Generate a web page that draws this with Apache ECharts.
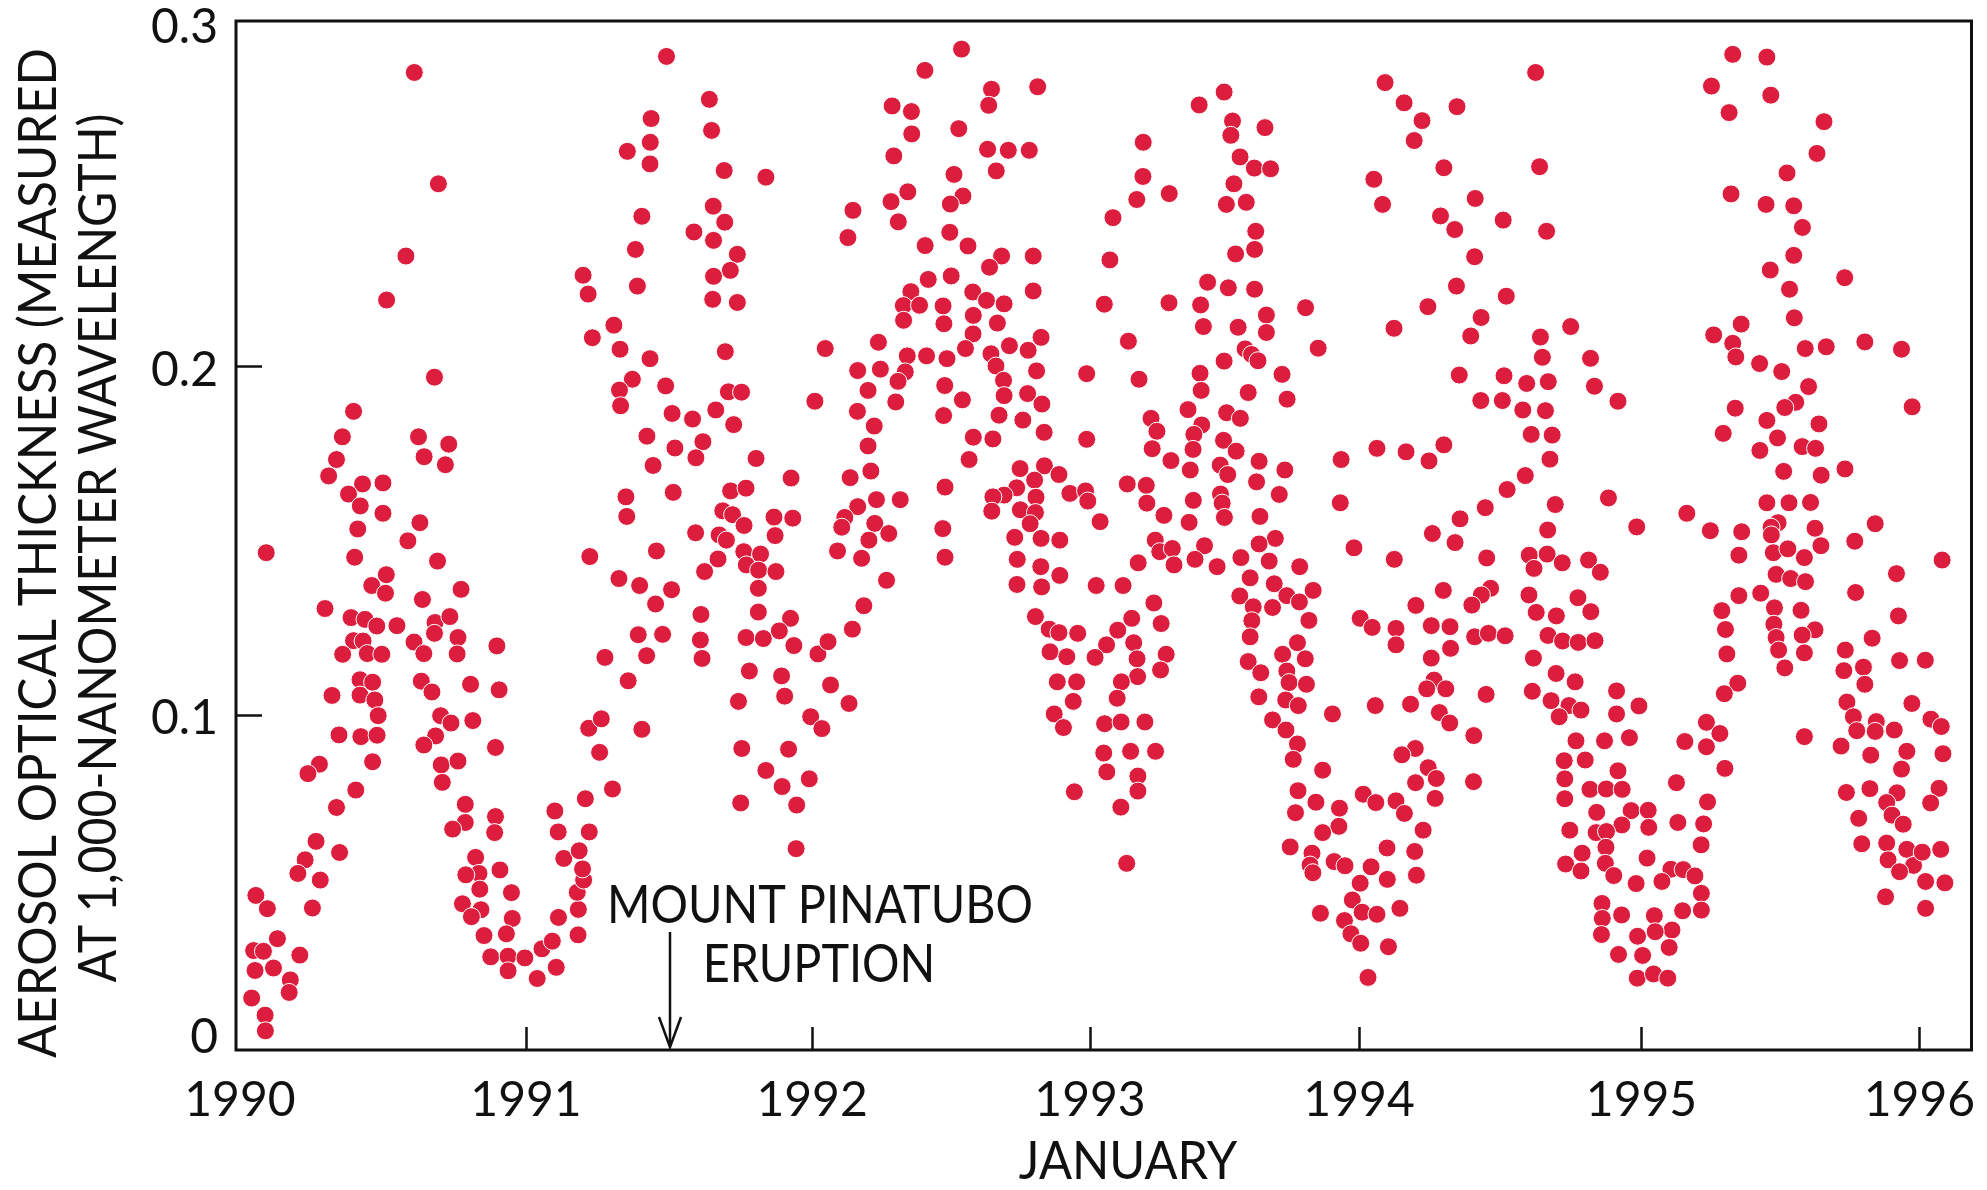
<!DOCTYPE html>
<html><head><meta charset="utf-8">
<style>html,body{margin:0;padding:0;background:#fff}#c{width:1987px;height:1190px}</style>
<script src="https://cdn.jsdelivr.net/npm/echarts@6/dist/echarts.min.js"></script>
</head><body><div id="c"></div>
<script>
// Observations: [decimal year on the axis scale, aerosol optical thickness]
const obs1990 = [[1990.623,.2843],[1990.709,.2524],[1990.593,.2317],[1990.524,.2191],[1990.695,.1970],[1990.406,.1872],[1990.366,.1799],[1990.345,.1734],[1990.317,.1687],[1990.438,.1664],[1990.511,.1667],[1990.388,.1635],[1990.430,.1601],[1990.511,.1580],[1990.421,.1535],[1990.643,.1553],[1990.638,.1799],[1990.746,.1778],[1990.658,.1742],[1990.734,.1719],
[1990.094,.1467],[1990.600,.1501],[1990.410,.1454],[1990.706,.1443],[1990.523,.1404],[1990.471,.1373],[1990.520,.1351],[1990.790,.1362],[1990.652,.1333],[1990.304,.1307],[1990.397,.1281],[1990.447,.1276],[1990.489,.1257],[1990.561,.1258],[1990.697,.1267],[1990.750,.1284],[1990.695,.1236],[1990.779,.1224],[1990.918,.1200],[1990.406,.1215],[1990.440,.1214],[1990.622,.1211],[1990.367,.1176],[1990.455,.1178],[1990.507,.1176],[1990.657,.1178],[1990.776,.1177],[1990.429,.1103],[1990.474,.1096],[1990.648,.1099],[1990.686,.1068],[1990.824,.1090],[1990.926,.1074],[1990.329,.1058],[1990.429,.1059],[1990.482,.1045],[1990.494,.1000],[1990.717,.1000],[1990.754,.0979],[1990.832,.0986],[1990.354,.0945],[1990.432,.0940],[1990.490,.0944],[1990.699,.0942],[1990.657,.0916],[1990.913,.0909],[1990.284,.0861],[1990.243,.0834],[1990.474,.0868],[1990.719,.0859],[1990.779,.0870],[1990.723,.0809],[1990.414,.0787],[1990.345,.0737],[1990.805,.0746],[1990.913,.0711],[1990.805,.0694],[1990.760,.0675],[1990.910,.0665],[1990.272,.0640],[1990.233,.0587],[1990.356,.0608],[1990.207,.0548],[1990.287,.0529],[1990.842,.0594],[1990.854,.0548],[1990.807,.0544],[1990.929,.0558],[1990.857,.0503],[1990.970,.0493],[1990.057,.0485],[1990.098,.0447],[1990.259,.0449],[1990.795,.0461],[1990.861,.0444],[1990.827,.0424],[1990.973,.0419],[1990.872,.0370],[1990.952,.0375],[1990.134,.0361],[1990.049,.0327],[1990.084,.0325],[1990.214,.0314],[1990.896,.0309],[1990.958,.0311],[1990.054,.0270],[1990.120,.0277],[1990.958,.0269],[1990.180,.0243],[1990.176,.0207],[1990.042,.0191],[1990.090,.0142],[1990.091,.0097]];
const obs1991 = [[1991.524,.2889],[1991.677,.2766],[1991.469,.2711],[1991.685,.2677],[1991.466,.2643],[1991.384,.2617],[1991.465,.2581],[1991.730,.2562],[1991.879,.2543],[1991.691,.2460],[1991.436,.2431],[1991.732,.2414],[1991.622,.2386],[1991.692,.2362],[1991.413,.2336],[1991.777,.2322],[1991.752,.2276],[1991.226,.2262],[1991.692,.2259],[1991.420,.2231],[1991.244,.2208],[1991.689,.2193],[1991.777,.2184],[1991.336,.2119],[1991.259,.2083],[1991.358,.2050],[1991.465,.2023],[1991.734,.2043],[1991.402,.1964],[1991.356,.1933],[1991.521,.1945],[1991.360,.1888],[1991.745,.1928],[1991.792,.1927],[1991.544,.1866],[1991.617,.1850],[1991.700,.1876],[1991.764,.1834],[1991.454,.1801],[1991.554,.1767],[1991.654,.1785],[1991.629,.1739],[1991.476,.1717],[1991.844,.1737],[1991.969,.1681],[1991.379,.1627],[1991.548,.1640],[1991.753,.1644],[1991.808,.1652],[1991.382,.1571],[1991.725,.1587],[1991.760,.1576],[1991.801,.1545],[1991.908,.1569],[1991.975,.1566],[1991.628,.1524],[1991.912,.1516],[1991.712,.1518],
[1991.738,.1503],[1991.250,.1456],[1991.488,.1472],[1991.800,.1470],[1991.860,.1463],[1991.708,.1449],[1991.660,.1413],[1991.809,.1432],[1991.853,.1417],[1991.915,.1413],[1991.354,.1393],[1991.428,.1373],[1991.542,.1361],[1991.852,.1365],[1991.485,.1320],
[1991.062,.0247],[1991.130,.0279],[1991.079,.0332],[1991.116,.0354],[1991.018,.0306],[1991.208,.0372],[1991.138,.0422],[1991.209,.0445],[1991.205,.0494],[1991.228,.0529],[1991.224,.0561],[1991.157,.0591],[1991.212,.0613],[1991.137,.0667],[1991.248,.0667],[1991.125,.0727],[1991.234,.0762],[1991.331,.0790],[1991.285,.0895],[1991.246,.0964],[1991.291,.0991],[1991.436,.0961],[1991.304,.1167],[1991.387,.1100],[1991.423,.1232],[1991.510,.1233],[1991.453,.1172],[1991.647,.1290],[1991.645,.1217],[1991.651,.1164],[1991.852,.1297],[1991.967,.1279],[1991.927,.1243],[1991.808,.1224],[1991.870,.1221],[1991.979,.1201],[1991.820,.1128],[1991.935,.1114],[1991.946,.1056],[1991.781,.1041],[1991.793,.0906],[1991.960,.0904],[1991.879,.0843],[1991.937,.0797],[1991.789,.0750],[1991.989,.0744],[1991.987,.0619]];
const obs1992 = [[1992.578,.2910],[1992.447,.2849],[1992.685,.2795],[1992.850,.2802],[1992.675,.2749],[1992.330,.2747],[1992.399,.2731],[1992.400,.2667],[1992.568,.2682],[1992.671,.2623],[1992.745,.2620],[1992.820,.2620],[1992.336,.2604],[1992.702,.2561],[1992.551,.2551],[1992.386,.2501],[1992.326,.2473],[1992.583,.2489],[1992.538,.2466],[1992.190,.2448],[1992.172,.2370],[1992.352,.2415],[1992.536,.2385],[1992.448,.2347],[1992.601,.2346],[1992.721,.2317],[1992.678,.2285],[1992.834,.2317],[1992.541,.2260],[1992.459,.2250],[1992.834,.2217],[1992.397,.2215],[1992.618,.2214],[1992.667,.2190],[1992.730,.2180],[1992.370,.2175],[1992.428,.2176],[1992.512,.2174],[1992.371,.2133],[1992.515,.2123],[1992.620,.2147],[1992.706,.2125],[1992.619,.2094],[1992.281,.2070],[1992.592,.2052],[1992.862,.2084],[1992.749,.2060],[1992.816,.2047],[1992.384,.2031],[1992.453,.2031],[1992.526,.2023],[1992.683,.2037],[1992.701,.2002],[1992.207,.1989],[1992.288,.1993],[1992.377,.1985],[1992.351,.1958],[1992.846,.1988],[1992.728,.1961],[1992.518,.1946],[1992.730,.1917],[1992.814,.1923],[1992.865,.1893],[1992.244,.1932],[1992.343,.1899],[1992.581,.1905],[1992.206,.1872],[1992.514,.1860],[1992.712,.1861],[1992.797,.1847],[1992.266,.1830],[1992.873,.1812],[1992.620,.1798],[1992.690,.1793],[1992.244,.1773],[1992.605,.1734],[1992.254,.1701],[1992.180,.1682],[1992.519,.1655],[1992.274,.1619],[1992.359,.1619],[1992.207,.1599],[1992.161,.1568],[1992.150,.1540],[1992.268,.1551],[1992.511,.1536],[1992.318,.1522],[1992.247,.1503],[1992.519,.1454],
[1992.091,.2052],[1992.054,.1901],[1992.065,.1177],[1992.101,.1212],[1992.039,.0997],[1992.079,.0963],[1992.034,.0819],[1992.110,.1088],[1992.176,.1035],[1992.188,.1248],[1992.229,.1315],[1992.310,.1388],[1992.221,.1451],[1992.135,.1472],
[1992.787,.1708],[1992.874,.1716],[1992.926,.1691],[1992.839,.1675],[1992.775,.1653],[1992.730,.1632],[1992.690,.1627],[1992.844,.1626],[1992.965,.1637],[1992.686,.1586],[1992.788,.1590],[1992.842,.1582],[1992.823,.1550],[1992.768,.1511],[1992.862,.1508],[1992.929,.1503],[1992.777,.1448],[1992.776,.1376],[1992.861,.1427],[1992.864,.1369],[1992.929,.1402],[1992.842,.1284],[1992.891,.1248],[1992.926,.1238],[1992.993,.1236],[1992.894,.1183],[1992.954,.1169],[1992.920,.1097],[1992.989,.1097],[1992.977,.1041],[1992.909,.1005],[1992.942,.0966],[1992.981,.0782]];
const obs1993 = [[1993.025,.1980],[1993.025,.1792],[1993.021,.1644],[1993.029,.1615],[1993.073,.1556],
[1993.516,.2787],[1993.427,.2750],[1993.546,.2704],[1993.662,.2685],[1993.540,.2663],[1993.227,.2643],[1993.573,.2601],[1993.624,.2569],[1993.682,.2567],[1993.226,.2545],[1993.551,.2524],[1993.320,.2496],[1993.204,.2479],[1993.524,.2465],[1993.595,.2471],[1993.119,.2427],[1993.629,.2388],[1993.625,.2336],[1993.557,.2323],[1993.108,.2306],[1993.457,.2242],[1993.531,.2226],[1993.625,.2222],[1993.088,.2179],[1993.319,.2183],[1993.432,.2177],[1993.807,.2169],[1993.667,.2148],[1993.442,.2115],[1993.566,.2113],[1993.667,.2098],[1993.174,.2073],[1993.852,.2053],[1993.591,.2051],[1993.614,.2035],[1993.637,.2017],[1993.516,.2016],[1993.430,.1981],[1993.723,.1978],[1993.212,.1964],[1993.434,.1932],[1993.602,.1926],[1993.741,.1907],[1993.387,.1877],[1993.525,.1868],[1993.574,.1852],[1993.255,.1852],[1993.436,.1833],[1993.276,.1815],[1993.408,.1806],[1993.514,.1789],[1993.405,.1763],[1993.259,.1765],[1993.559,.1758],[1993.326,.1731],[1993.641,.1729],[1993.934,.1734],[1993.395,.1704],[1993.502,.1718],[1993.529,.1691],[1993.733,.1704],[1993.632,.1670],[1993.170,.1664],[1993.238,.1660],[1993.713,.1634],[1993.503,.1635],[1993.406,.1617],[1993.509,.1609],[1993.240,.1609],[1993.931,.1610],[1993.301,.1574],[1993.517,.1568],[1993.391,.1554],[1993.644,.1571],[1993.699,.1508],[1993.641,.1492],[1993.270,.1503],[1993.286,.1470],[1993.331,.1479],[1993.337,.1432],[1993.446,.1487],[1993.412,.1448],[1993.209,.1438],[1993.491,.1427],[1993.576,.1453],[1993.677,.1443],[1993.786,.1427],[1993.980,.1481],[1993.609,.1395],[1993.695,.1378],[1993.059,.1373],[1993.155,.1373],[1993.834,.1359],[1993.572,.1343],[1993.740,.1344],[1993.785,.1326],[1993.265,.1323],[1993.620,.1312],[1993.689,.1310],[1993.186,.1279],[1993.291,.1264],[1993.819,.1273],[1993.615,.1272],[1993.136,.1245],[1993.096,.1203],[1993.055,.1167],[1993.193,.1209],[1993.205,.1163],[1993.309,.1176],[1993.289,.1131],[1993.207,.1112],[1993.149,.1097],[1993.134,.1050],[1993.089,.0977],[1993.148,.0982],[1993.233,.0982],[1993.086,.0893],[1993.182,.0898],[1993.271,.0898],[1993.097,.0839],[1993.208,.0827],[1993.208,.0784],[1993.147,.0738],[1993.168,.0577],
[1993.609,.1226],[1993.602,.1155],[1993.647,.1123],[1993.640,.1054],[1993.725,.1176],[1993.778,.1209],[1993.806,.1163],[1993.740,.1128],[1993.748,.1095],[1993.810,.1090],[1993.736,.1045],[1993.781,.1029],[1993.903,.1005],[1993.689,.0988],[1993.737,.0959],[1993.778,.0919],[1993.763,.0875],[1993.868,.0844],[1993.780,.0785],[1993.844,.0752],[1993.928,.0735],[1993.771,.0722],[1993.926,.0683],[1993.868,.0665],[1993.752,.0624],[1993.830,.0606],[1993.823,.0572],[1993.833,.0550],[1993.909,.0582],[1993.948,.0570],[1993.974,.0472],[1993.860,.0434],[1993.946,.0413],[1993.969,.0375]];
const obs1994 = [[1994.051,.2537],[1994.082,.2465],[1994.123,.2110],[1994.124,.1448],[1994.062,.1766],[1994.002,.1279],[1994.045,.1253],[1994.130,.1250],[1994.130,.1203],[1994.056,.1029],[1994.013,.0775],[1994.058,.0751],[1994.098,.0621],[1994.041,.0567],[1994.099,.0531],[1994.002,.0520],[1994.009,.0437],[1994.062,.0431],[1994.144,.0448],[1994.004,.0348],[1994.103,.0338],[1994.030,.0250],
[1994.629,.2843],[1994.091,.2814],[1994.348,.2745],[1994.159,.2756],[1994.223,.2705],[1994.195,.2648],[1994.301,.2570],[1994.643,.2573],[1994.413,.2482],[1994.289,.2432],[1994.340,.2393],[1994.513,.2420],[1994.668,.2388],[1994.411,.2315],[1994.346,.2231],[1994.524,.2202],[1994.244,.2172],[1994.434,.2141],[1994.397,.2088],[1994.754,.2115],[1994.646,.2085],[1994.653,.2027],[1994.825,.2024],[1994.356,.1976],[1994.516,.1974],[1994.597,.1952],[1994.674,.1957],[1994.839,.1944],[1994.923,.1901],[1994.433,.1903],[1994.510,.1903],[1994.583,.1876],[1994.664,.1874],[1994.613,.1806],[1994.688,.1804],[1994.680,.1735],[1994.592,.1688],[1994.527,.1648],[1994.449,.1596],[1994.699,.1605],[1994.359,.1564],[1994.889,.1624],[1994.260,.1522],[1994.672,.1532],[1994.990,.1541],[1994.166,.1756],[1994.248,.1730],[1994.301,.1776],
[1994.341,.1496],[1994.454,.1452],[1994.606,.1460],[1994.670,.1463],[1994.623,.1422],[1994.724,.1438],[1994.818,.1446],[1994.860,.1411],[1994.299,.1359],[1994.201,.1316],[1994.468,.1365],[1994.435,.1346],[1994.401,.1317],[1994.605,.1346],[1994.780,.1338],[1994.631,.1296],[1994.703,.1286],[1994.826,.1298],[1994.256,.1258],[1994.323,.1255],[1994.673,.1230],[1994.725,.1214],[1994.781,.1210],[1994.841,.1215],[1994.411,.1226],[1994.460,.1236],[1994.520,.1229],[1994.325,.1193],[1994.256,.1165],[1994.621,.1165],[1994.702,.1121],[1994.770,.1097],[1994.266,.1102],[1994.240,.1077],[1994.308,.1077],[1994.452,.1061],[1994.617,.1070],[1994.918,.1071],[1994.684,.1043],[1994.748,.1029],[1994.791,.1016],[1994.713,.0997],[1994.918,.1005],[1994.998,.1028],[1994.182,.1033],[1994.285,.1009],[1994.322,.0979],[1994.408,.0943],[1994.773,.0928],[1994.875,.0928],[1994.964,.0937],[1994.199,.0906],[1994.151,.0888],[1994.245,.0851],[1994.274,.0820],[1994.200,.0808],[1994.407,.0811],[1994.270,.0763],[1994.130,.0756],[1994.160,.0720],[1994.227,.0672],[1994.197,.0611],[1994.203,.0543],
[1994.731,.0871],[1994.806,.0873],[1994.923,.0842],[1994.733,.0819],[1994.823,.0789],[1994.881,.0790],[1994.938,.0789],[1994.733,.0762],[1994.847,.0723],[1994.970,.0728],[1994.937,.0687],[1994.751,.0672],[1994.845,.0665],[1994.882,.0668],[1994.880,.0623],[1994.795,.0606],[1994.736,.0575],[1994.791,.0555],[1994.878,.0577],[1994.908,.0542],[1994.988,.0519],[1994.866,.0462],[1994.867,.0419],[1994.936,.0429],[1994.864,.0373],[1994.993,.0368],[1994.925,.0316],[1994.992,.0248]];
const obs1995 = [[1995.162,.0926],[1995.239,.0981],[1995.287,.0949],[1995.239,.0911],[1995.305,.0849],[1995.132,.0808],[1995.243,.0753],[1995.031,.0729],[1995.033,.0680],[1995.137,.0694],[1995.229,.0690],[1995.220,.0630],[1995.027,.0592],[1995.112,.0560],[1995.156,.0559],[1995.198,.0541],[1995.080,.0525],[1995.221,.0491],[1995.154,.0441],[1995.221,.0443],[1995.053,.0427],[1995.116,.0386],[1995.056,.0381],[1995.106,.0336],[1995.011,.0313],[1995.050,.0260],[1995.101,.0248],
[1995.333,.2895],[1995.455,.2887],[1995.257,.2804],[1995.469,.2778],[1995.320,.2728],[1995.659,.2702],[1995.634,.2611],[1995.527,.2555],[1995.327,.2495],[1995.452,.2465],[1995.551,.2461],[1995.582,.2399],[1995.551,.2319],[1995.467,.2277],[1995.733,.2255],[1995.536,.2222],[1995.553,.2140],[1995.363,.2122],[1995.265,.2091],[1995.333,.2067],[1995.344,.2028],[1995.429,.2009],[1995.508,.1986],[1995.592,.2052],[1995.667,.2057],[1995.805,.2071],[1995.936,.2050],[1995.604,.1943],[1995.558,.1898],[1995.519,.1883],[1995.342,.1881],[1995.455,.1846],[1995.641,.1836],[1995.974,.1885],[1995.299,.1809],[1995.493,.1796],[1995.581,.1771],[1995.629,.1766],[1995.430,.1760],[1995.515,.1700],[1995.649,.1689],[1995.734,.1707],[1995.455,.1610],[1995.534,.1610],[1995.611,.1611],[1995.169,.1580],[1995.253,.1530],[1995.365,.1527],[1995.495,.1553],[1995.470,.1540],[1995.471,.1518],[1995.627,.1537],[1995.842,.1550],[1995.769,.1500],[1995.648,.1487],
[1995.355,.1460],[1995.478,.1467],[1995.530,.1478],[1995.589,.1453],[1995.918,.1407],[1995.488,.1405],[1995.540,.1393],[1995.593,.1384],[1995.355,.1344],[1995.433,.1351],[1995.772,.1353],[1995.294,.1301],[1995.482,.1309],[1995.577,.1302],[1995.925,.1286],[1995.480,.1262],[1995.307,.1247],[1995.627,.1246],[1995.581,.1231],[1995.488,.1224],[1995.831,.1222],[1995.312,.1177],[1995.497,.1188],[1995.589,.1180],[1995.735,.1188],[1995.929,.1158],[1995.800,.1139],[1995.730,.1129],[1995.519,.1137],[1995.805,.1090],[1995.351,.1093],[1995.303,.1063],[1995.741,.1039],[1995.973,.1035],[1995.764,.0997],[1995.846,.0983],[1995.776,.0957],[1995.842,.0955],[1995.910,.0959],[1995.589,.0940],[1995.720,.0913],[1995.955,.0898],[1995.826,.0887],[1995.936,.0847],[1995.739,.0780],[1995.823,.0791],[1995.920,.0779],[1995.883,.0751],[1995.902,.0715],[1995.783,.0706],[1995.942,.0689],[1995.794,.0633],[1995.883,.0635],[1995.955,.0617],[1995.888,.0587],[1995.979,.0571],[1995.929,.0553],[1995.879,.0481]];
const obs1996 = [[1996.081,.1446],[1996.021,.1159],[1996.041,.0990],[1996.078,.0969],[1996.084,.0891],[1996.070,.0792],[1996.040,.0750],[1996.010,.0609],[1996.076,.0617],[1996.022,.0525],[1996.091,.0521],[1996.022,.0448]];

const xTickPositions = [1991.022,1992.044,1993.037,1993.998,1995.007,1996.000];
const xLabelPositions = [1990.000,1991.022,1992.044,1993.037,1993.998,1995.007,1996.000];
const yTickPositions = [0.1,0.2];
const yLabelPositions = [0.00765,0.0993,0.1990,0.29705];
const xTitle = 'JANUARY';
const yTitleLines = ['AEROSOL OPTICAL THICKNESS (MEASURED','AT 1,000-NANOMETER WAVELENGTH)'];
const noteLines = ['MOUNT PINATUBO','ERUPTION'];

const FONT = 'Lato,"Noto Sans",sans-serif';
const INK = '#111';
const label = (text,x,y,scale,rot)=>({type:'text',x,y,rotation:rot||0,scaleX:scale,
  style:{text,x:0,y:0,align:'center',verticalAlign:'middle',font:'52px '+FONT,fill:INK}});
const chart = echarts.init(document.getElementById('c'), null, {renderer:'canvas'});
chart.setOption({
  animation:false,
  backgroundColor:'#fff',
  grid:{show:true,left:236,right:1987-1971.5,top:21,bottom:140,borderColor:INK,borderWidth:3,backgroundColor:'#fff',outerBoundsMode:'none'},
  xAxis:{type:'value',min:1989.986,max:1996.186,
    splitLine:{show:false},axisLine:{show:false},
    axisTick:{show:true,inside:true,length:23,lineStyle:{color:INK,width:2.5},customValues:xTickPositions},
    axisLabel:{show:true,margin:27,fontFamily:FONT,fontSize:48,color:INK,customValues:xLabelPositions,
      formatter:v=>String(Math.round(v))}},
  yAxis:{type:'value',min:0.00421,max:0.29905,
    splitLine:{show:false},axisLine:{show:false},
    axisTick:{show:true,inside:true,length:26,lineStyle:{color:INK,width:2.5},customValues:yTickPositions},
    axisLabel:{show:true,margin:18,fontFamily:FONT,fontSize:48,color:INK,customValues:yLabelPositions,
      formatter:v=>{const r=Math.round(v*10)/10;return r===0?'0':r.toFixed(1);}}},
  series:[{type:'scatter',symbol:'circle',symbolSize:18,clip:false,
    data:[].concat(obs1990,obs1991,obs1992,obs1993,obs1994,obs1995,obs1996),
    itemStyle:{color:'#DC1D3E',borderColor:'#fff',borderWidth:1,opacity:1}}],
  graphic:[
    label(yTitleLines[0],39,553,0.947,Math.PI/2),
    label(yTitleLines[1],99,548,0.928,Math.PI/2),
    label(xTitle,1128,1162,0.94),
    label(noteLines[0],820,906,0.9),
    label(noteLines[1],819,965,0.9),
    {type:'line',shape:{x1:670,y1:932,x2:670,y2:1046},style:{stroke:INK,lineWidth:2.5}},
    {type:'polyline',shape:{points:[[659,1017],[670,1047],[681,1017]]},style:{stroke:INK,lineWidth:2.5,fill:null}}
  ]
});
</script></body></html>
